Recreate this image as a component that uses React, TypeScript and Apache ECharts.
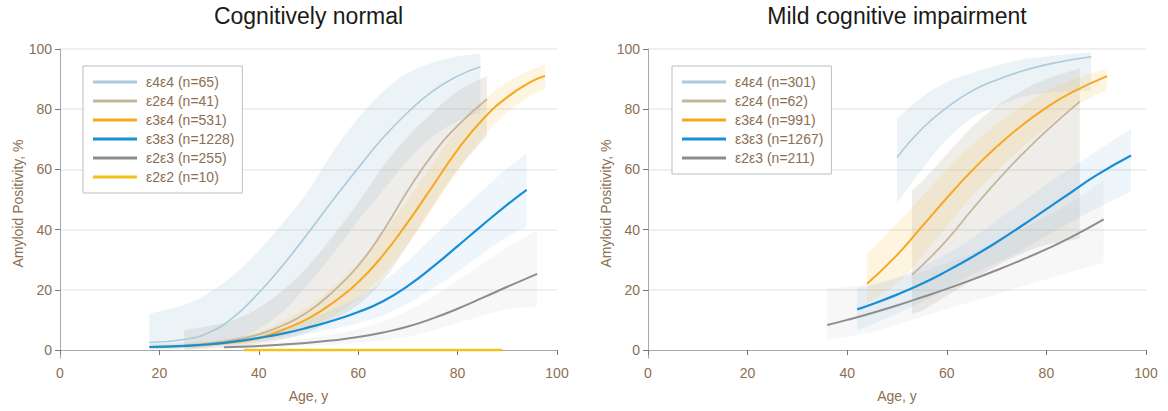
import React, { useEffect, useRef } from "react";
import * as echarts from "echarts";

// ---------- tick labels ----------
const xTicks = [0, 20, 40, 60, 80, 100];
const yTicks = [0, 20, 40, 60, 80, 100];
const gridValues = [20, 40, 60, 80, 100];

const titles = ["Cognitively normal", "Mild cognitive impairment"];
const xName = "Age, y";
const yName = "Amyloid Positivity, %";

// ---------- Cognitively normal ----------
const cnNames = ["ε4ε4 (n=65)", "ε2ε4 (n=41)", "ε3ε4 (n=531)", "ε3ε3 (n=1228)", "ε2ε3 (n=255)", "ε2ε2 (n=10)"];

const cn44Age = [18, 25, 30, 35, 40, 45, 50, 55, 60, 65, 70, 75, 80, 84.6];
const cn44Val = [2.5, 3.5, 5.8, 11, 19, 28.5, 39, 50, 60.5, 70.5, 79, 86, 91, 94.1];
const cn44Hi = [12, 15, 19, 25, 33, 42.5, 53, 66, 77, 86, 92, 95.5, 97.5, 98.5];
const cn44Lo = [0, 0.3, 1, 3, 7, 13, 22, 32, 43, 53, 63, 71, 76, 79];

const cn24Age = [25, 30, 35, 40, 45, 50, 55, 60, 65, 70, 75, 80, 85.9];
const cn24Val = [1.5, 2.2, 3.3, 5.2, 8.3, 12.8, 19.5, 28, 39.5, 53, 65, 74.5, 83.3];
const cn24Hi = [6.6, 8, 10, 14, 20, 28, 38, 49, 61, 71, 79, 86, 91];
const cn24Lo = [0, 0.5, 1, 2, 3.5, 6, 10, 15, 23, 35, 48, 60, 71];

const cn34Age = [18, 25, 30, 35, 40, 45, 50, 55, 60, 65, 70, 75, 80, 85, 90, 95, 97.6];
const cn34Val = [1, 1.3, 1.8, 2.6, 4, 6.8, 10.5, 15.8, 22.5, 31.5, 42.5, 54.5, 66.5, 76.5, 84, 89.3, 91];
const cn34Hi = [1.5, 2, 2.8, 4, 6, 9.8, 14.5, 21, 29, 39, 50, 62, 73.5, 82.5, 89, 93.3, 94.7];
const cn34Lo = [0.5, 0.8, 1.2, 1.8, 2.8, 4.6, 7.5, 11.5, 17, 25, 35, 47, 59.5, 70.5, 79, 85, 86.5];

const cn33Age = [18, 25, 30, 35, 40, 45, 50, 55, 60, 65, 70, 75, 80, 85, 90, 93.9];
const cn33Val = [1, 1.4, 1.9, 2.8, 4, 5.5, 7.5, 9.8, 12.6, 16.2, 21.3, 27.6, 34.5, 41.5, 48.3, 53.2];
const cn33Hi = [2, 2.4, 2.9, 4, 5.5, 7.4, 10.2, 13.5, 17.5, 22.8, 29.5, 37.5, 45.5, 53, 60.5, 65.3];
const cn33Lo = [0.3, 0.5, 1, 1.8, 2.7, 3.9, 5.4, 7, 9, 11.5, 15.5, 20.5, 26, 32, 37.5, 41];

const cn23Age = [33, 40, 45, 50, 55, 60, 65, 70, 75, 80, 85, 90, 96];
const cn23Val = [0.9, 1.3, 1.8, 2.4, 3.2, 4.3, 5.8, 7.8, 10.5, 13.7, 17.3, 21, 25.3];
const cn23Hi = [1.4, 2, 2.8, 3.9, 5.2, 7, 9.5, 13, 17.5, 23, 28.5, 34, 40];
const cn23Lo = [0.4, 0.7, 1, 1.4, 1.8, 2.4, 3.2, 4.5, 6.5, 9, 11.5, 13.5, 14.5];

const cn22Age = [37, 89];
const cn22Val = [0, 0];

// ---------- Mild cognitive impairment ----------
const mciNames = ["ε4ε4 (n=301)", "ε2ε4 (n=62)", "ε3ε4 (n=991)", "ε3ε3 (n=1267)", "ε2ε3 (n=211)"];

const m44Age = [50, 55, 60, 65, 70, 75, 80, 85, 89];
const m44Val = [64, 73.5, 80.5, 86, 89.7, 92.6, 94.8, 96.4, 97.4];
const m44Hi = [77, 84, 89, 92, 94.5, 96.5, 97.5, 98.3, 98.8];
const m44Lo = [48.7, 60, 70, 77, 81, 84, 85.5, 86, 86];

const m24Age = [53, 55, 60, 65, 70, 75, 80, 86.7];
const m24Val = [25, 28, 36.5, 46.5, 56, 64.8, 72.8, 82.5];
const m24Hi = [53, 56, 65, 74, 81, 86, 90, 93.6];
const m24Lo = [12, 13, 18, 23, 28, 32, 35, 37];

const m34Age = [44, 50, 55, 60, 65, 70, 75, 80, 85, 92.2];
const m34Val = [22, 31.5, 41, 50.5, 59.5, 67.5, 74.5, 80.5, 85.5, 91];
const m34Hi = [32, 42, 51, 60, 68, 75, 81, 86, 89.5, 93.6];
const m34Lo = [15.6, 22, 31, 41, 51, 59.5, 67, 74, 80.5, 86.4];

const m33Age = [42, 45, 50, 55, 60, 65, 70, 75, 80, 85, 90, 97];
const m33Val = [13.5, 15.2, 18.4, 22, 26.2, 30.8, 35.8, 41.2, 46.8, 52.4, 58, 64.6];
const m33Hi = [20.5, 21.5, 24, 27.5, 32, 37, 43, 49, 55, 60.5, 66, 73.6];
const m33Lo = [6.6, 8.5, 12, 16, 20.5, 25, 29, 33, 38, 42.5, 47, 52.6];

const m23Age = [36, 40, 45, 50, 55, 60, 65, 70, 75, 80, 85, 91.5];
const m23Val = [8.3, 10, 12.3, 14.8, 17.5, 20.3, 23.3, 26.5, 29.9, 33.5, 37.5, 43.4];
const m23Hi = [20.5, 21, 22, 24, 26, 29, 32, 36, 40, 44.5, 49, 56.5];
const m23Lo = [3.3, 4.5, 6, 8.5, 11, 13.5, 16, 18.5, 21, 23.5, 26, 28.8];

// ---------- styles ----------
const FONT = '"Liberation Sans", Arial, sans-serif';
const TXT = "#8c6e52";
const AXIS = "#a8a8a8";

const LINE = {
  e44: { color: "#a9cbdc", width: 1.6, band: "rgba(160,195,215,0.2)" },
  e24: { color: "#c6b59d", width: 1.8, band: "rgba(160,148,128,0.17)" },
  e34: { color: "#f6a821", width: 2, band: "rgba(250,195,80,0.17)" },
  e33: { color: "#178ed5", width: 2.2, band: "rgba(90,165,220,0.1)" },
  e23: { color: "#8d8d8d", width: 2, band: "rgba(150,150,150,0.08)" },
  e22: { color: "#f2c21a", width: 2.4, band: "" },
};

type Grp = { key: string; name: string; age: number[]; val: number[]; lo?: number[]; hi?: number[]; st: { color: string; width: number; band: string } };

const cnGroups: Grp[] = [
  { key: "cn44", name: cnNames[0], age: cn44Age, val: cn44Val, lo: cn44Lo, hi: cn44Hi, st: LINE.e44 },
  { key: "cn24", name: cnNames[1], age: cn24Age, val: cn24Val, lo: cn24Lo, hi: cn24Hi, st: LINE.e24 },
  { key: "cn34", name: cnNames[2], age: cn34Age, val: cn34Val, lo: cn34Lo, hi: cn34Hi, st: LINE.e34 },
  { key: "cn33", name: cnNames[3], age: cn33Age, val: cn33Val, lo: cn33Lo, hi: cn33Hi, st: LINE.e33 },
  { key: "cn23", name: cnNames[4], age: cn23Age, val: cn23Val, lo: cn23Lo, hi: cn23Hi, st: LINE.e23 },
  { key: "cn22", name: cnNames[5], age: cn22Age, val: cn22Val, st: LINE.e22 },
];
const mciGroups: Grp[] = [
  { key: "m44", name: mciNames[0], age: m44Age, val: m44Val, lo: m44Lo, hi: m44Hi, st: LINE.e44 },
  { key: "m24", name: mciNames[1], age: m24Age, val: m24Val, lo: m24Lo, hi: m24Hi, st: LINE.e24 },
  { key: "m34", name: mciNames[2], age: m34Age, val: m34Val, lo: m34Lo, hi: m34Hi, st: LINE.e34 },
  { key: "m33", name: mciNames[3], age: m33Age, val: m33Val, lo: m33Lo, hi: m33Hi, st: LINE.e33 },
  { key: "m23", name: mciNames[4], age: m23Age, val: m23Val, lo: m23Lo, hi: m23Hi, st: LINE.e23 },
];

function bandSeries(g: Grp, idx: number) {
  const lo = g.lo as number[];
  const hi = g.hi as number[];
  return {
    type: "custom",
    name: "_band_" + g.key,
    xAxisIndex: idx,
    yAxisIndex: idx,
    silent: true,
    z: 1,
    data: [[g.age[0], g.val[0]]],
    encode: { x: 0, y: 1 },
    renderItem: (_p: any, api: any) => {
      const up = g.age.map((a, i) => api.coord([a, hi[i]]));
      const dn = g.age.map((a, i) => api.coord([a, lo[i]])).reverse();
      const n = up.length;
      // duplicate the four corners so the smoothing keeps the vertical ends square
      const pts = [up[0], ...up, up[n - 1], dn[0], ...dn, dn[n - 1]];
      return {
        type: "polygon",
        shape: { points: pts, smooth: 0.35 },
        style: { fill: g.st.band, stroke: "none" },
      };
    },
  };
}

function buildSeries(groups: Grp[], idx: number) {
  const bands: any[] = [];
  const lines: any[] = [];
  groups.forEach((g, gi) => {
    if (g.lo && g.hi) bands.push(bandSeries(g, idx));
    const s: any = {
      type: "line",
      name: g.name,
      xAxisIndex: idx,
      yAxisIndex: idx,
      data: g.age.map((a, i) => [a, g.val[i]]),
      smooth: 0.5,
      symbol: "none",
      color: g.st.color,
      itemStyle: { color: g.st.color },
      lineStyle: { color: g.st.color, width: g.st.width },
      z: 3,
    };
    if (gi === 0) {
      s.markLine = {
        silent: true,
        symbol: "none",
        label: { show: false },
        lineStyle: { color: "#ebebeb", width: 1.5, type: "solid" },
        data: gridValues.map((v) => ({ yAxis: v })),
        z: 0,
      };
    }
    lines.push(s);
  });
  return [...bands, ...lines];
}

const gridLeft = [60, 648];
const gridWidth = [497, 498];

function xAxis(i: number) {
  return {
    gridIndex: i,
    type: "value",
    min: 0,
    max: 100,
    interval: 20,
    name: xName,
    nameLocation: "middle",
    nameGap: 31,
    nameTextStyle: { color: TXT, fontSize: 14, fontFamily: FONT },
    axisLine: { show: true, lineStyle: { color: AXIS, width: 1 } },
    axisTick: { show: true, length: 5, lineStyle: { color: "#777" } },
    axisLabel: { color: TXT, fontSize: 14, fontFamily: FONT, margin: 8, customValues: xTicks },
    splitLine: { show: false },
  };
}
function yAxis(i: number) {
  return {
    gridIndex: i,
    type: "value",
    min: -2.66,
    max: 100,
    name: yName,
    nameLocation: "middle",
    nameGap: 33,
    nameTextStyle: { color: TXT, fontSize: 14, fontFamily: FONT },
    axisLine: { show: true, lineStyle: { color: AXIS, width: 1 } },
    axisTick: { show: true, length: 5, lineStyle: { color: "#777" }, customValues: yTicks },
    axisLabel: { color: TXT, fontSize: 14, fontFamily: FONT, margin: 8, customValues: yTicks },
    splitLine: { show: false },
  };
}

function legend(names: string[], left: number) {
  return {
    data: names,
    left,
    top: 66,
    orient: "vertical",
    selectedMode: false,
    icon: "rect",
    itemWidth: 44,
    itemHeight: 3,
    itemGap: 3,
    padding: [8, 8, 8, 10],
    borderColor: "#bdbdbd",
    borderWidth: 1,
    backgroundColor: "#fff",
    textStyle: { color: TXT, fontSize: 14, fontFamily: FONT, lineHeight: 16, padding: [0, 0, 0, 4] },
  };
}

export default function App() {
  const ref = useRef<HTMLDivElement>(null);
  useEffect(() => {
    if (!ref.current) return;
    const chart = echarts.init(ref.current, undefined, { renderer: "svg" });
    chart.setOption({
      animation: false,
      backgroundColor: "#fff",
      title: titles.map((t, i) => ({
        text: t,
        left: gridLeft[i] + gridWidth[i] / 2,
        top: 4,
        padding: 0,
        textAlign: "center",
        textStyle: { color: "#1a1a1a", fontSize: 23, fontWeight: "normal", fontFamily: FONT },
      })),
      legend: [legend(cnNames, 83), legend(mciNames, 672)],
      grid: [0, 1].map((i) => ({ left: gridLeft[i], width: gridWidth[i], top: 49, height: 309, containLabel: false })),
      xAxis: [xAxis(0), xAxis(1)],
      yAxis: [yAxis(0), yAxis(1)],
      series: [...buildSeries(cnGroups, 0), ...buildSeries(mciGroups, 1)],
    });
    return () => chart.dispose();
  }, []);
  return (
    <div
      ref={ref}
      style={{ position: "fixed", left: 0, top: 0, width: 1168, height: 411, background: "#fff" }}
    />
  );
}
